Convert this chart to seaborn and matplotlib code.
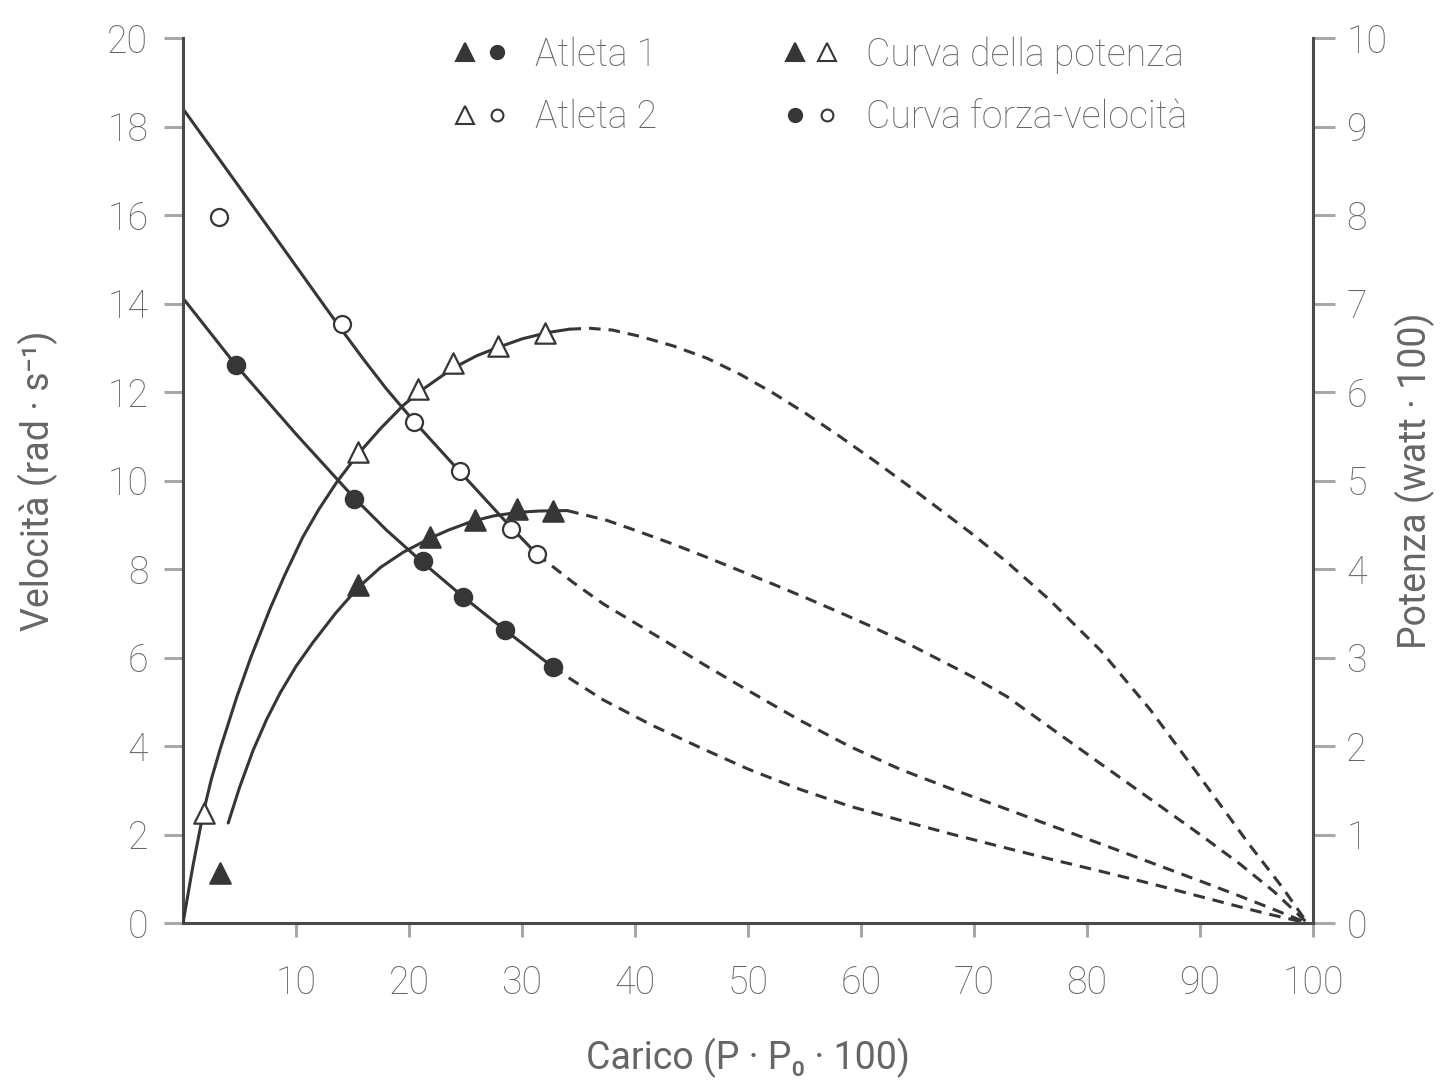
import matplotlib
matplotlib.use("Agg")
import matplotlib.pyplot as plt
import pandas as pd
import seaborn as sns
from matplotlib.lines import Line2D
from matplotlib.legend_handler import HandlerTuple

# ---------------- data ----------------
# measured points: velocity (left axis, rad/s) and power (right axis, watt/100)
a1_vel_x = [4.7, 15.1, 21.2, 24.8, 28.5, 32.7]
a1_vel_y = [12.6, 9.58, 8.18, 7.37, 6.62, 5.79]
a2_vel_x = [3.2, 14.1, 20.4, 24.5, 29.0, 31.3]
a2_vel_y = [15.95, 13.54, 11.32, 10.21, 8.90, 8.34]
a1_pow_x = [3.3, 15.5, 21.9, 25.8, 29.6, 32.7]
a1_pow_y = [0.56, 3.82, 4.36, 4.55, 4.68, 4.66]
a2_pow_x = [1.9, 15.5, 20.8, 23.9, 27.9, 32.0]
a2_pow_y = [1.24, 5.32, 6.03, 6.33, 6.52, 6.67]

# fitted curves (solid part, then dashed extrapolation)
v2_solid_x = [0, 4, 8, 12, 14, 16, 18, 20.4, 24.5, 29.0, 31.3]
v2_solid_y = [18.4, 16.98, 15.56, 14.13, 13.42, 12.73, 12.07, 11.35, 10.2, 8.95, 8.34]
v2_dash_x = [31.3, 34.5, 37.2, 40.4, 43.4, 46.1, 49.3, 52.0, 54.6, 59.0, 63.5, 68.0,
             72.3, 76.5, 81.2, 85.5, 90.0, 93.0, 95.9, 99.5]
v2_dash_y = [8.34, 7.70, 7.21, 6.72, 6.26, 5.84, 5.36, 4.96, 4.58, 3.99, 3.47, 3.03,
             2.63, 2.23, 1.79, 1.38, 0.95, 0.66, 0.37, 0.0]

v1_solid_x = [0, 4.7, 10.0, 15.1, 18.0, 21.2, 24.8, 28.5, 32.7]
v1_solid_y = [14.12, 12.6, 11.05, 9.62, 8.88, 8.15, 7.37, 6.62, 5.79]
v1_dash_x = [32.7, 34.5, 37.2, 41.5, 45.8, 50.0, 54.6, 59.0, 63.5, 68.0, 72.3, 76.5,
             81.2, 85.5, 90.0, 93.0, 95.9, 99.5]
v1_dash_y = [5.79, 5.48, 5.04, 4.47, 3.96, 3.48, 3.02, 2.64, 2.32, 2.01, 1.73, 1.46,
             1.17, 0.90, 0.60, 0.40, 0.21, 0.0]

p2_solid_x = [0, 0.9, 1.8, 2.5, 3.3, 4.75, 6.0, 7.7, 9.0, 10.6, 12.0, 13.6, 15.5,
              17.5, 19.5, 21.0, 23.9, 26.0, 27.8, 30.0, 32.2, 34.2]
p2_solid_y = [0, 0.66, 1.25, 1.62, 1.97, 2.55, 3.0, 3.55, 3.93, 4.36, 4.67, 4.98, 5.30,
              5.59, 5.85, 6.01, 6.27, 6.41, 6.50, 6.60, 6.67, 6.71]
p2_dash_x = [34.2, 36.0, 38.0, 40.4, 43.4, 46.4, 49.3, 52.2, 55.2, 58.1, 61.1, 64.1,
             67.0, 69.9, 72.9, 76.7, 81.2, 85.6, 90.0, 94.4, 97.3, 99.5]
p2_dash_y = [6.71, 6.72, 6.70, 6.63, 6.52, 6.38, 6.20, 5.99, 5.75, 5.50, 5.23, 4.95,
             4.67, 4.39, 4.08, 3.65, 3.08, 2.41, 1.65, 0.88, 0.40, 0.0]

p1_solid_x = [4.0, 5.0, 6.2, 7.4, 8.6, 10.0, 11.5, 13.5, 15.5, 17.5, 19.5, 21.9,
              23.5, 25.6, 27.5, 29.6, 31.5, 34.0]
p1_solid_y = [1.13, 1.53, 1.95, 2.30, 2.60, 2.90, 3.17, 3.50, 3.79, 4.02, 4.19, 4.35,
              4.44, 4.54, 4.60, 4.64, 4.655, 4.66]
p1_dash_x = [34.0, 37.5, 40.4, 43.4, 46.4, 49.3, 52.2, 55.2, 58.1, 61.1, 64.1, 67.0,
             69.9, 72.9, 76.5, 81.2, 85.5, 90.0, 93.5, 96.5, 99.5]
p1_dash_y = [4.66, 4.55, 4.42, 4.28, 4.13, 3.98, 3.83, 3.67, 3.51, 3.34, 3.16, 2.97,
             2.78, 2.56, 2.23, 1.80, 1.41, 1.00, 0.67, 0.36, 0.0]

x_ticks = [10, 20, 30, 40, 50, 60, 70, 80, 90, 100]
vel_ticks = [0, 2, 4, 6, 8, 10, 12, 14, 16, 18, 20]
pow_ticks = [0, 1, 2, 3, 4, 5, 6, 7, 8, 9, 10]

legend_labels = ["Atleta 1", "Atleta 2", "Curva della potenza", "Curva forza-velocità"]
x_label = "Carico (P · P\u2080 · 100)"
vel_label = "Velocità (rad · s\u207b\u00b9)"
pow_label = "Potenza (watt · 100)"

# ---------------- styling ----------------
sns.set_theme(style="white")
plt.rcParams["font.family"] = ["Roboto", "DejaVu Sans"]
plt.rcParams["font.weight"] = "light"

LINE = "#363636"
TEXT = "#666666"
TICK = "#a8a8a8"
FS = 27
DASH = (0, (3.8, 2.6))

fig = plt.figure(figsize=(14.45, 10.86), dpi=100)
ax = fig.add_axes([183 / 1445, 1 - 923 / 1086, 1130 / 1445, 885 / 1086])
ax2 = ax.twinx()


def curve(axis, xs, ys, dashed=False):
    df = pd.DataFrame({"x": xs, "y": ys})
    sns.lineplot(data=df, x="x", y="y", ax=axis, sort=False, estimator=None,
                 color=LINE, lw=2.2, linestyle=DASH if dashed else "-",
                 zorder=2, legend=False)


def points(axis, xs, ys, marker, filled, size):
    df = pd.DataFrame({"x": xs, "y": ys})
    sns.scatterplot(data=df, x="x", y="y", ax=axis, marker=marker, s=size,
                    color=LINE if filled else "white", edgecolor=LINE,
                    linewidth=1.6, zorder=4, legend=False)


# velocity curves (left axis)
curve(ax, v2_solid_x, v2_solid_y)
curve(ax, v2_dash_x, v2_dash_y, dashed=True)
curve(ax, v1_solid_x, v1_solid_y)
curve(ax, v1_dash_x, v1_dash_y, dashed=True)
points(ax, a1_vel_x, a1_vel_y, "o", True, 155)
points(ax, a2_vel_x, a2_vel_y, "o", False, 150)

# power curves (right axis)
curve(ax2, p2_solid_x, p2_solid_y)
curve(ax2, p2_dash_x, p2_dash_y, dashed=True)
curve(ax2, p1_solid_x, p1_solid_y)
curve(ax2, p1_dash_x, p1_dash_y, dashed=True)
points(ax2, a1_pow_x, a1_pow_y, "^", True, 215)
points(ax2, a2_pow_x, a2_pow_y, "^", False, 215)

# axes
ax.set_xlim(0, 100)
ax.set_ylim(0, 20)
ax2.set_ylim(0, 10)
ax.set_xticks(x_ticks)
ax.set_yticks(vel_ticks)
ax2.set_yticks(pow_ticks)

for a in (ax, ax2):
    for s in a.spines.values():
        s.set_visible(False)
ax.spines["left"].set_visible(True)
ax.spines["bottom"].set_visible(True)
ax2.spines["right"].set_visible(True)
for s in (ax.spines["left"], ax.spines["bottom"], ax2.spines["right"]):
    s.set_color("#4a4a4a")
    s.set_linewidth(2.2)

ax.tick_params(axis="y", direction="out", length=14, width=2.2, color=TICK,
               labelsize=FS, labelcolor=TEXT, pad=11, left=True)
ax.tick_params(axis="x", direction="out", length=10, width=2.2, color=TICK,
               labelsize=FS, labelcolor=TEXT, pad=20, bottom=True)
ax2.tick_params(axis="y", direction="out", length=16, width=2.2, color=TICK,
                labelsize=FS, labelcolor=TEXT, pad=8, right=True)

ax.set_xlabel(x_label, fontsize=FS, color=TEXT)
ax.set_ylabel(vel_label, fontsize=FS, color=TEXT)
ax2.set_ylabel(pow_label, fontsize=FS, color=TEXT, rotation=90)
ax.xaxis.label.set_va("center")
ax.yaxis.label.set_va("center")
ax2.yaxis.label.set_va("center")
ax.xaxis.set_label_coords(0.5, -0.1525)
ax.yaxis.set_label_coords(-0.128, 0.5)
ax2.yaxis.set_label_coords(1.09, 0.5)


# legend
def mk(marker, filled, ms):
    return Line2D([], [], ls="none", marker=marker, ms=ms,
                  markerfacecolor=LINE if filled else "white",
                  markeredgecolor=LINE, markeredgewidth=1.5)


handles = [
    (mk("^", True, 13), mk("o", True, 9.5)),
    (mk("^", False, 13), mk("o", False, 8.5)),
    (mk("^", True, 13), mk("^", False, 13)),
    (mk("o", True, 9.5), mk("o", False, 8.5)),
]
leg = ax.legend(handles, legend_labels, ncol=2, frameon=False,
                handler_map={tuple: HandlerTuple(ndivide=None, pad=0)},
                loc="upper left", bbox_to_anchor=(449 / 1445, 1 - 36 / 1086),
                bbox_transform=fig.transFigure, borderaxespad=0, borderpad=0,
                fontsize=FS, handlelength=1.7, handletextpad=0.6,
                columnspacing=3.25, labelspacing=0.68)
for t in leg.get_texts():
    t.set_color(TEXT)
leg.set_zorder(10)

fig.savefig("out.png", dpi=100)
